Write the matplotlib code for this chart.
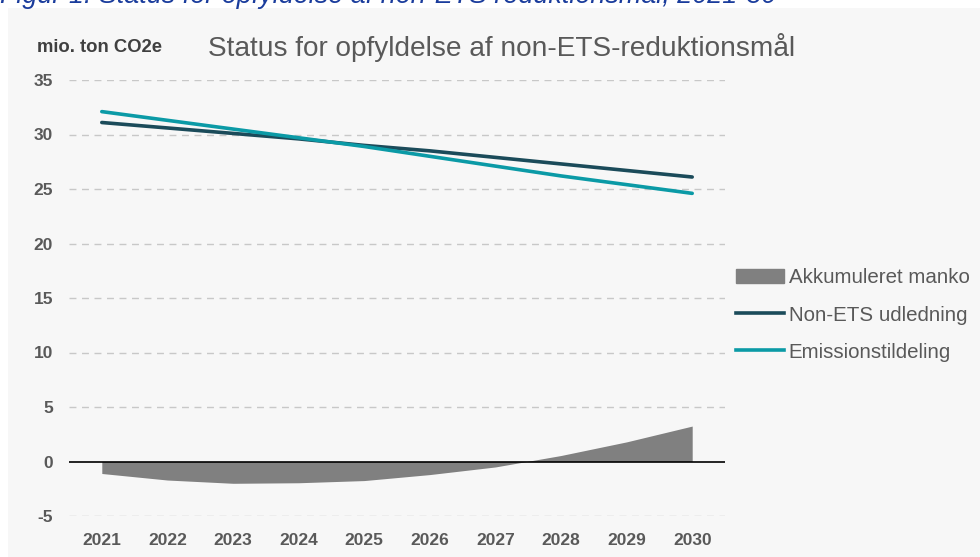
import numpy as np
import matplotlib.pyplot as plt
from matplotlib.patches import Rectangle, Patch
from matplotlib.lines import Line2D

plt.rcParams['font.family'] = ['Liberation Sans', 'DejaVu Sans']
plt.rcParams['axes.unicode_minus'] = False

years = [2021, 2022, 2023, 2024, 2025, 2026, 2027, 2028, 2029, 2030]
non_ets = [31.1, 30.6, 30.1, 29.6, 29.0, 28.5, 27.9, 27.3, 26.7, 26.1]
emission = [32.1, 31.3, 30.5, 29.7, 28.9, 28.0, 27.1, 26.2, 25.4, 24.6]
manko = [-1.1, -1.7, -2.0, -1.95, -1.75, -1.2, -0.5, 0.55, 1.8, 3.25]

fig = plt.figure(figsize=(9.8, 5.57), dpi=100)
fig.patch.set_facecolor('white')
W, H = 980, 557

# grey chart panel
fig.patches.append(Rectangle((8 / W, 0), 1 - 8 / W, 1 - 8 / H, transform=fig.transFigure,
                             facecolor='#f7f7f7', edgecolor='none', zorder=-10))

# clipped caption above panel
fig.text(0.0, 1 - 3 / H, 'Figur 1: Status for opfyldelse af non-ETS reduktionsmål, 2021-30',
         fontsize=19.4, style='italic', color='#1a3c9c', ha='left', va='baseline')

ax = fig.add_axes([69 / W, 1 - 516 / H, (725 - 69) / W, (516 - 80) / H])
ax.set_facecolor('none')
x = np.arange(len(years))

ax.fill_between(x, manko, 0, color='#808080', linewidth=0, zorder=2)
ax.plot(x, non_ets, color='#1b4b5a', linewidth=2.6, solid_capstyle='round', zorder=3)
ax.plot(x, emission, color='#0b9aa6', linewidth=2.6, solid_capstyle='round', zorder=4)
ax.axhline(0, color='black', linewidth=1.2, zorder=5)

ax.set_xlim(-0.5, len(years) - 0.5)
ax.set_ylim(-5, 35)
ax.set_yticks(range(-5, 40, 5))
ax.set_xticks(x)
ax.set_xticklabels([str(y) for y in years])
for yv in range(-5, 40, 5):
    if yv != 0:
        ax.axhline(yv, color='#c8c8c8', linewidth=1, linestyle=(0, (5, 4)), zorder=1)
for s in ax.spines.values():
    s.set_visible(False)
ax.tick_params(length=0, labelsize=12.5, labelcolor='#595959')
for lab in ax.get_xticklabels() + ax.get_yticklabels():
    lab.set_fontweight('bold')
ax.tick_params(axis='y', pad=11.5)
ax.tick_params(axis='x', pad=12)

fig.text(37 / W, 1 - 47 / H, 'mio. ton CO2e', fontsize=13.3, fontweight='bold',
         color='#404040', va='center', ha='left')
fig.text(208 / W, 1 - 47 / H, 'Status for opfyldelse af non-ETS-reduktionsmål',
         fontsize=20.2, color='#595959', va='center', ha='left')

handles = [Patch(facecolor='#808080', edgecolor='#808080'),
           Line2D([], [], color='#1b4b5a', linewidth=2.6),
           Line2D([], [], color='#0b9aa6', linewidth=2.6)]
labels = ['Akkumuleret manko', 'Non-ETS udledning', 'Emissionstildeling']
fig.legend(handles, labels, loc='center left', bbox_to_anchor=(728 / W, 1 - 315 / H),
           frameon=False, fontsize=14.8, labelcolor='#595959', handlelength=2.3,
           handletextpad=0.25, labelspacing=0.88, borderaxespad=0)

fig.savefig('out.png', dpi=100)
